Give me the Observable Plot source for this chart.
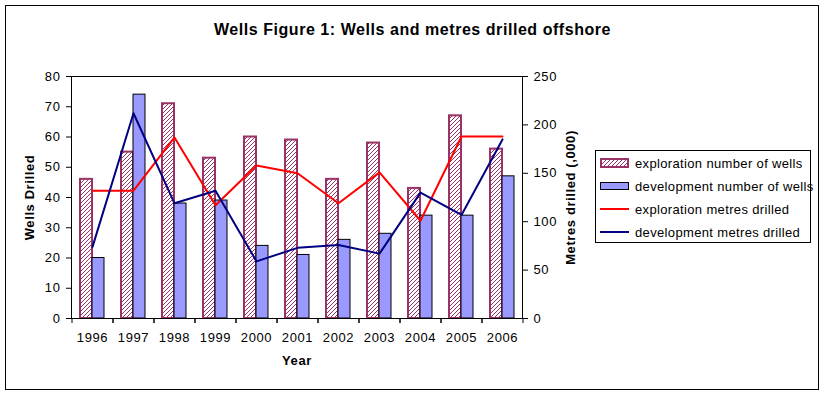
<!DOCTYPE html>
<html><head><meta charset="utf-8">
<script src="https://cdn.jsdelivr.net/npm/d3@7"></script>
<script src="https://cdn.jsdelivr.net/npm/@observablehq/plot@0.6"></script>
<style>
body{margin:0;background:#fff;font-family:Arial,"Liberation Sans",sans-serif;}
#wrap{position:relative;width:825px;height:395px;overflow:hidden;}
#border{position:absolute;left:5px;top:5px;width:814px;height:385px;border:1px solid #000;box-sizing:border-box;}
#title{position:absolute;left:0;top:21px;width:825px;text-align:center;font-weight:bold;font-size:16px;letter-spacing:0.55px;}
#chart{position:absolute;left:0;top:0;}
#legend{position:absolute;left:595px;top:150px;width:216px;height:93px;border:1px solid #000;box-sizing:border-box;font-size:13px;letter-spacing:0.35px;}
#legend .row{position:absolute;left:4px;height:16px;display:flex;align-items:center;white-space:nowrap;}
#legend svg{margin-right:5px;}
</style></head>
<body>
<div id="wrap">
  <div id="border"></div>
  <div id="chart"></div>
  <div id="title">Wells Figure 1: Wells and metres drilled offshore</div>
  <div id="legend"></div>
</div>
<script>
const years = ["1996","1997","1998","1999","2000","2001","2002","2003","2004","2005","2006"];
const explWells = [46,55,71,53,60,59,46,58,43,67,56];
const devWells = [20,74,38,39,24,21,26,28,34,34,47];
const explMetres = [132,132,187,117,158,150,119,151,101,188,188];
const devMetres = [74,212,119,132,59,73,76,67,130,107,185];
const wellTicks = [0,10,20,30,40,50,60,70,80];
const metreTicks = [0,50,100,150,200,250];
const seriesNames = ["exploration number of wells","development number of wells","exploration metres drilled","development metres drilled"];

const wellsMax = 80, metresMax = 250;
const toWells = m => m * wellsMax / metresMax;

const data = years.map((y,i) => ({year:y, ew:explWells[i], dw:devWells[i], em:toWells(explMetres[i]), dm:toWells(devMetres[i])}));

const HATCH = "#993366", DEV = "#9999FF";

const plot = Plot.plot({
  width: 825, height: 395,
  marginLeft: 71, marginRight: 303, marginTop: 76, marginBottom: 77,
  style: {fontFamily: "Arial, 'Liberation Sans', sans-serif", fontSize: "13px", letterSpacing: "0.6px", background: "transparent", overflow: "visible"},
  x: {type: "band", domain: years, paddingInner: 0.42, paddingOuter: 0.21, label: null},
  y: {domain: [0, wellsMax], label: null},
  marks: [
    Plot.barY(data, {x: "year", y: "ew", fill: "url(#hatch)", stroke: HATCH, strokeWidth: 2, insetRight: 12}),
    Plot.barY(data, {x: "year", y: "dw", fill: DEV, stroke: "#000", strokeWidth: 1, insetLeft: 12}),
    Plot.line(data, {x: "year", y: "em", stroke: "#FF0000", strokeWidth: 2}),
    Plot.line(data, {x: "year", y: "dm", stroke: "#000080", strokeWidth: 2}),
    Plot.frame({stroke: "#000"}),
    Plot.axisY({anchor: "left", ticks: wellTicks, tickSize: 5, tickPadding: 6, label: null}),
    Plot.axisY({anchor: "right", ticks: metreTicks.map(toWells), tickFormat: d => String(Math.round(d * metresMax / wellsMax)), tickSize: 5, tickPadding: 6, label: null}),
    Plot.axisX({tickSize: 0, tickPadding: 14, label: null}),
    Plot.axisX({tickSize: 5, tickFormat: () => "", dx: -20.5, label: null}),
    Plot.axisX({tickSize: 5, tickFormat: () => "", dx: 20.5, label: null}),
    Plot.text(["Wells Drilled"], {frameAnchor: "left", textAnchor: "middle", rotate: -90, dx: -42, fontWeight: "bold", fontSize: 13}),
    Plot.text(["Metres drilled (,000)"], {frameAnchor: "right", textAnchor: "middle", rotate: -90, dx: 48, fontWeight: "bold", fontSize: 13}),
    Plot.text(["Year"], {frameAnchor: "bottom", textAnchor: "middle", dy: 46, fontWeight: "bold", fontSize: 13})
  ]
});

// hatch pattern definition
const ns = "http://www.w3.org/2000/svg";
const defs = document.createElementNS(ns, "defs");
defs.innerHTML = `<pattern id="hatch" patternUnits="userSpaceOnUse" width="4" height="4">
  <rect width="4" height="4" fill="#fff"/>
  <path d="M-1,1 l2,-2 M0,4 l4,-4 M3,5 l2,-2" stroke="${HATCH}" stroke-width="1"/>
</pattern>
<pattern id="hatch2" patternUnits="userSpaceOnUse" width="4" height="4">
  <rect width="4" height="4" fill="#fff"/>
  <path d="M-1,1 l2,-2 M0,4 l4,-4 M3,5 l2,-2" stroke="${HATCH}" stroke-width="1"/>
</pattern>`;
plot.insertBefore(defs, plot.firstChild);
document.getElementById("chart").appendChild(plot);

// legend
const swatches = [
  `<svg width="30" height="10"><rect x="1" y="1" width="27" height="8" fill="url(#hatch2)" stroke="${HATCH}" stroke-width="2"/></svg>`,
  `<svg width="30" height="10"><rect x="0.5" y="1.5" width="28" height="7" fill="${DEV}" stroke="#000" stroke-width="1"/></svg>`,
  `<svg width="30" height="10"><line x1="0" x2="29" y1="5" y2="5" stroke="#FF0000" stroke-width="2"/></svg>`,
  `<svg width="30" height="10"><line x1="0" x2="29" y1="5" y2="5" stroke="#000080" stroke-width="2"/></svg>`
];
const leg = document.getElementById("legend");
seriesNames.forEach((n, i) => {
  const r = document.createElement("div");
  r.className = "row";
  r.style.top = (4 + i * 23) + "px";
  r.innerHTML = swatches[i] + `<span>${n}</span>`;
  leg.appendChild(r);
});
</script>
</body></html>
